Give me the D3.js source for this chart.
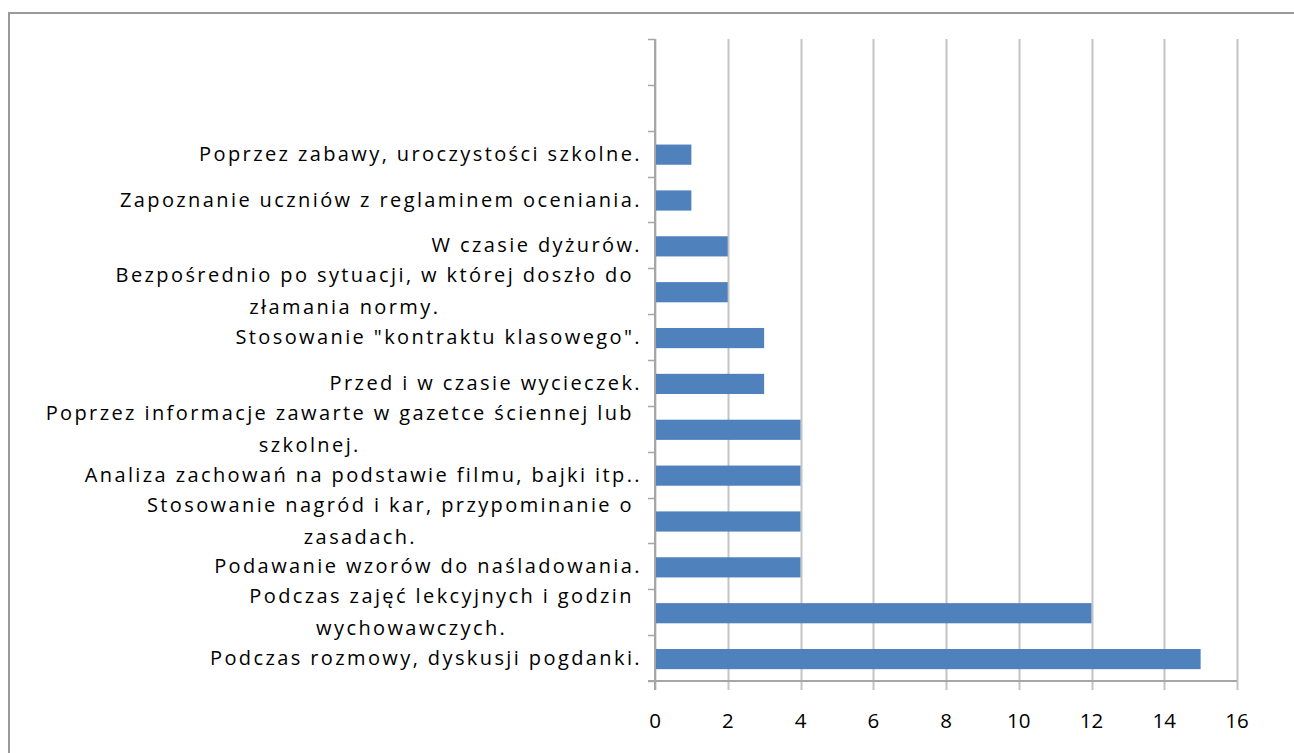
<!DOCTYPE html>
<html>
<head>
<meta charset="utf-8">
<script src="https://cdn.jsdelivr.net/npm/d3@7"></script>
<style>
  body { margin: 0; background: #fff; }
  svg { display: block; }
</style>
</head>
<body>
<svg id="chart" width="1294" height="753"></svg>
<script>
// kategorie od góry do dołu (dwie pierwsze puste)
const labels = [
    "",
    "",
    "Poprzez zabawy, uroczystości szkolne.",
    "Zapoznanie uczniów z reglaminem oceniania.",
    "W czasie dyżurów.",
    "Bezpośrednio po sytuacji, w której doszło do\nzłamania normy.",
    "Stosowanie \"kontraktu klasowego\".",
    "Przed i w czasie wycieczek.",
    "Poprzez informacje zawarte w gazetce ściennej lub\nszkolnej.",
    "Analiza zachowań na podstawie filmu, bajki itp..",
    "Stosowanie nagród i kar, przypominanie o\nzasadach.",
    "Podawanie wzorów do naśladowania.",
    "Podczas zajęć lekcyjnych i godzin\nwychowawczych.",
    "Podczas rozmowy, dyskusji pogdanki."
];
const values = [null, null, 1, 1, 2, 2, 3, 3, 4, 4, 4, 4, 12, 15];
const xTicks = [0, 2, 4, 6, 8, 10, 12, 14, 16];

const margin = {top: 39, left: 655},
      width = 582,
      height = 642;

const svg = d3.select("#chart");

// ramka wykresu
svg.append("rect")
    .attr("x", 9).attr("y", 13)
    .attr("width", 1294).attr("height", 753)
    .attr("fill", "none")
    .attr("stroke", "#9a9a9a")
    .attr("stroke-width", 2);

const g = svg.append("g").attr("transform", `translate(${margin.left},${margin.top})`);

const x = d3.scaleLinear().domain([0, 16]).range([0, width]);
const y = d3.scaleBand()
    .domain(d3.range(labels.length))
    .range([0, height])
    .paddingInner(0.56)
    .paddingOuter(0.28);

// linie siatki + ticki osi X
g.selectAll(".grid")
    .data(xTicks)
  .enter().append("line")
    .attr("class", "grid")
    .attr("x1", d => Math.round(x(d)) + 0.5)
    .attr("x2", d => Math.round(x(d)) + 0.5)
    .attr("y1", 0)
    .attr("y2", height + 9)
    .attr("stroke", "#c4c4c4")
    .attr("stroke-width", 2);

g.selectAll(".xlab")
    .data(xTicks)
  .enter().append("text")
    .attr("class", "xlab")
    .attr("x", d => x(d))
    .attr("y", height + 47)
    .attr("text-anchor", "middle")
    .style("font", "20.5px 'Open Sans', sans-serif")
    .attr("fill", "#000")
    .text(d => d);

// słupki
g.selectAll(".bar")
    .data(values.map((v, i) => ({v: v, i: i})).filter(d => d.v != null))
  .enter().append("rect")
    .attr("class", "bar")
    .attr("x", 0)
    .attr("y", d => y(d.i) + 1)
    .attr("width", d => x(d.v))
    .attr("height", y.bandwidth())
    .attr("fill", "#4f81bd");

// oś Y z tickami na granicach kategorii
const yTickPos = d3.range(labels.length + 1).map(i => i * height / labels.length);
g.selectAll(".ytick")
    .data(yTickPos)
  .enter().append("line")
    .attr("x1", -7).attr("x2", 0)
    .attr("y1", d => Math.round(d) + 0.5)
    .attr("y2", d => Math.round(d) + 0.5)
    .attr("stroke", "#a6a6a6")
    .attr("stroke-width", 1.5);

g.append("line")
    .attr("x1", 0).attr("x2", 0)
    .attr("y1", 0).attr("y2", height + 9)
    .attr("stroke", "#a6a6a6")
    .attr("stroke-width", 2);

g.append("line")
    .attr("x1", -7).attr("x2", width)
    .attr("y1", height).attr("y2", height)
    .attr("stroke", "#a6a6a6")
    .attr("stroke-width", 2);

// etykiety kategorii
const lineH = 32;
g.selectAll(".ylab")
    .data(labels.map((t, i) => ({t: t, i: i})).filter(d => d.t))
  .enter().append("text")
    .attr("class", "ylab")
    .style("font", "20px 'Open Sans', sans-serif")
    .style("letter-spacing", "2.4px")
    .attr("fill", "#000")
    .each(function(d) {
        const lines = d.t.split("\n");
        const cy = (d.i + 0.5) * height / labels.length;
        const el = d3.select(this);
        const right = lines.length > 1 ? -21 : -13;
        const first = el.append("tspan")
            .attr("x", right)
            .attr("y", cy - (lines.length - 1) * lineH / 2)
            .attr("dy", "0.35em")
            .attr("text-anchor", "end")
            .text(lines[0]);
        if (lines.length > 1) {
            const w = first.node().getComputedTextLength();
            el.append("tspan")
                .attr("x", right - w / 2 - 30)
                .attr("y", cy + lineH / 2)
                .attr("dy", "0.35em")
                .attr("text-anchor", "middle")
                .text(lines[1]);
        }
    });
</script>
</body>
</html>
